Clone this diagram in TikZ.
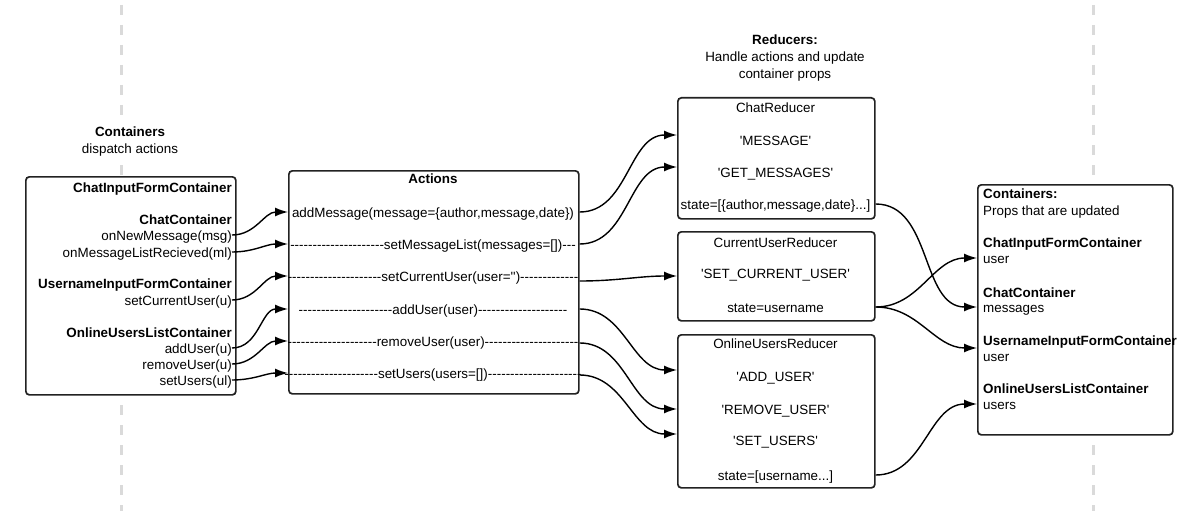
\documentclass[tikz,border=0pt]{standalone}
\usepackage{fontspec}
\setmainfont{Liberation Sans}[Ligatures=TeXOff]
\usetikzlibrary{arrows.meta,calc}

\definecolor{guidegray}{HTML}{DADADA}
\definecolor{boxline}{HTML}{222222}

\ExplSyntaxOn
\NewDocumentCommand\hy{m}{\prg_replicate:nn{#1}{-}}
\ExplSyntaxOff

\tikzset{
  box/.style={draw=boxline, line width=1.7pt, rounded corners=3.5pt, fill=white,
    inner sep=0pt, anchor=north west},
  txt/.style={inner sep=0pt, text height=10pt, text depth=0pt},
  head/.style={txt, font=\fontsize{13.4pt}{16pt}\selectfont\bfseries},
  flow/.style={-{Latex[length=13pt,width=9pt]}, line width=1.4pt, out=0, in=180},
  guide/.style={guidegray, line width=3pt, dash pattern=on 10pt off 10pt},
}

\begin{document}
\begin{tikzpicture}[x=1pt, y=-1pt, font=\fontsize{13.4pt}{16pt}\selectfont]
    \useasboundingbox (0,0) rectangle (1195,511);
    \draw[guide] (121,5) -- (121,511);
    \draw[guide] (1093,5) -- (1093,511);

    % titles
    \node[head, fill=white, inner sep=3pt] (conttitle) at (130,131) {Containers};
    \node[txt, fill=white, inner sep=3pt] (contsub) at (130,148) {dispatch actions};
    \node[head] (redtitle) at (785,40) {Reducers:};
    \node[txt] (redsub) at (785,57) {Handle actions and update};
    \node[txt] (redsubb) at (785,73) {container props};

    % boxes
    \node[box, minimum width=210pt, minimum height=218pt] (cont) at (25,176) {};
    \node[box, minimum width=290pt, minimum height=223pt] (actions) at (288,170) {};
    \node[box, minimum width=197pt, minimum height=121pt] (chatred) at (677,97) {};
    \node[box, minimum width=197pt, minimum height=89pt] (curred) at (677,231) {};
    \node[box, minimum width=197pt, minimum height=153pt] (onlred) at (677,334) {};
    \node[box, minimum width=195pt, minimum height=250pt] (props) at (977,184) {};

    % dispatching containers
    \node[head, anchor=east] (cifc) at (232,187) {ChatInputFormContainer};
    \node[head, anchor=east] (cc) at (232,219) {ChatContainer};
    \node[txt, anchor=east] (onnew) at (232,235) {onNewMessage(msg)};
    \node[txt, anchor=east] (onlist) at (232,252) {onMessageListRecieved(ml)};
    \node[head, anchor=east] (uifc) at (232,283) {UsernameInputFormContainer};
    \node[txt, anchor=east] (lsetcur) at (232,300) {setCurrentUser(u)};
    \node[head, anchor=east] (oulc) at (232,332) {OnlineUsersListContainer};
    \node[txt, anchor=east] (ladd) at (232,348) {addUser(u)};
    \node[txt, anchor=east] (lremove) at (232,364) {removeUser(u)};
    \node[txt, anchor=east] (lsetusers) at (232,380) {setUsers(ul)};

    % actions
    \node[head] (acttitle) at (433,178) {Actions};
    \node[txt] (addmsg) at (433,212) {addMessage(message=\{author,message,date\})};
    \node[txt] (setlist) at (433,244) {\hy{21}setMessageList(messages=[])\hy{3}};
    \node[txt] (setcur) at (433,276) {\hy{21}setCurrentUser(user='')\hy{13}};
    \node[txt] (adduser) at (433,309) {\hy{21}addUser(user)\hy{20}};
    \node[txt] (remuser) at (433,341) {\hy{20}removeUser(user)\hy{21}};
    \node[txt] (setusers) at (433,373) {\hy{21}setUsers(users=[])\hy{21}};

    % reducers
    \node[txt] (chatname) at (775.5,107) {ChatReducer};
    \node[txt] (msgtype) at (775.5,140) {'MESSAGE'};
    \node[txt] (getmsgs) at (775.5,172) {'GET\_MESSAGES'};
    \node[txt] (chatstate) at (775.5,204) {state=[\{author,message,date\}...]};
    \node[txt] (curname) at (775.5,242) {CurrentUserReducer};
    \node[txt] (setcurtype) at (775.5,273) {'SET\_CURRENT\_USER'};
    \node[txt] (curstate) at (775.5,307) {state=username};
    \node[txt] (onlname) at (775.5,343) {OnlineUsersReducer};
    \node[txt] (addtype) at (775.5,376) {'ADD\_USER'};
    \node[txt] (remtype) at (775.5,409) {'REMOVE\_USER'};
    \node[txt] (setusrtype) at (775.5,440) {'SET\_USERS'};
    \node[txt] (onlstate) at (775.5,475) {state=[username...]};

    % updated containers
    \node[head, anchor=west] (ptitle) at (983,193) {Containers:};
    \node[txt, anchor=west] (psub) at (983,210) {Props that are updated};
    \node[head, anchor=west] (pcifc) at (983,242) {ChatInputFormContainer};
    \node[txt, anchor=west] (pcifcuser) at (983,258) {user};
    \node[head, anchor=west] (pcc) at (983,292) {ChatContainer};
    \node[txt, anchor=west] (pccmsgs) at (983,307) {messages};
    \node[head, anchor=west] (puifc) at (983,340) {UsernameInputFormContainer};
    \node[txt, anchor=west] (puifcuser) at (983,356) {user};
    \node[head, anchor=west] (poulc) at (983,388) {OnlineUsersListContainer};
    \node[txt, anchor=west] (poulcusers) at (983,404) {users};

    % connectors
    \draw[flow] (onnew.east) to (actions.west |- addmsg);
    \draw[flow] (onlist.east) to (actions.west |- setlist);
    \draw[flow] (lsetcur.east) to (actions.west |- setcur);
    \draw[flow] (ladd.east) to (actions.west |- adduser);
    \draw[flow] (lremove.east) to (actions.west |- remuser);
    \draw[flow] (lsetusers.east) to (actions.west |- setusers);

    \draw[flow] (actions.east |- addmsg) to ($(chatred.west |- msgtype)+(0,-5)$);
    \draw[flow] (actions.east |- setlist) to ($(chatred.west |- getmsgs)+(0,-5)$);
    \draw[flow] ($(actions.east |- setcur)+(0,5)$) to ($(curred.west |- setcurtype)+(0,3)$);
    \draw[flow] (actions.east |- adduser) to ($(onlred.west |- addtype)+(0,-6)$);
    \draw[flow] ($(actions.east |- remuser)+(0,2)$) to (onlred.west |- remtype);
    \draw[flow] ($(actions.east |- setusers)+(0,2)$) to ($(onlred.west |- setusrtype)+(0,-6)$);

    \draw[flow] (chatred.east |- chatstate) to (props.west |- pccmsgs);
    \draw[flow] (curred.east |- curstate) to (props.west |- pcifcuser);
    \draw[flow] (curred.east |- curstate) to ($(props.west |- puifcuser)+(0,-8)$);
    \draw[flow] (onlred.east |- onlstate) to (props.west |- poulcusers);
\end{tikzpicture}
\end{document}
